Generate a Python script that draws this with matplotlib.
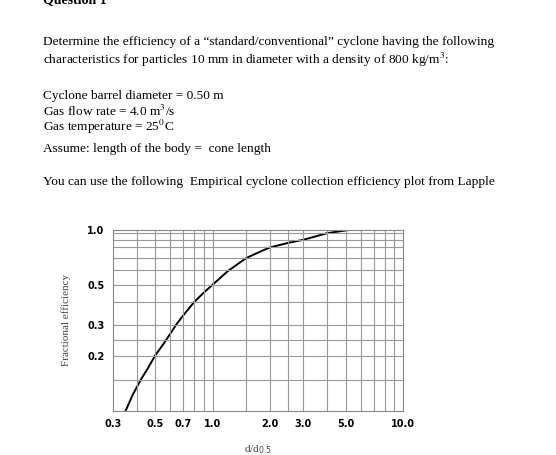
import numpy as np
import matplotlib
matplotlib.use("Agg")
import matplotlib.pyplot as plt

ratio = [0.35, 0.38, 0.42, 0.46, 0.5, 0.55, 0.6, 0.65, 0.7, 0.8, 0.9, 1.0, 1.2, 1.5, 1.8, 2.0, 2.5, 3.0, 4.0, 5.3]
eff = [0.1, 0.125, 0.15, 0.175, 0.2, 0.235, 0.27, 0.305, 0.34, 0.4, 0.455, 0.5, 0.59, 0.7, 0.765, 0.8, 0.86, 0.9, 0.95, 1.0]
xticks = [0.3, 0.5, 0.7, 1.0, 2.0, 3.0, 5.0, 10.0]
yticks = [0.2, 0.3, 0.5, 1.0]

yv = np.array([0.1, 0.15, 0.2, 0.25, 0.3, 0.4, 0.5, 0.6, 0.7, 0.8, 0.9, 0.95, 1.0])
yp = -np.array([588, 495, 422, 375, 330, 262, 210, 165, 130, 98, 75, 55, 45], float)
fwd = lambda v: np.interp(v, yv, yp)
inv = lambda p: np.interp(p, yp, yv)

fig = plt.figure(figsize=(5.56, 4.55), dpi=100)
serif = "Liberation Serif"
lines = [
    (0.092, "Determine the efficiency of a \u201cstandard/conventional\u201d cyclone having the following"),
    (0.132, "characteristics for particles 10 mm in diameter with a density of 800 kg/m$^3$:"),
    (0.210, "Cyclone barrel diameter = 0.50 m"),
    (0.244, "Gas flow rate = 4.0 m$^3$/s"),
    (0.278, "Gas temperature = 25$^0$C"),
    (0.328, "Assume: length of the body =  cone length"),
    (0.400, "You can use the following  Empirical cyclone collection efficiency plot from Lapple"),
]
for y, t in lines:
    fig.text(0.077, 1 - y, t, family=serif, fontsize=9.6, va="center",
             math_fontfamily="stix")
fig.text(0.077, 1.0, "Question 1", family=serif, fontsize=10, weight="bold", va="center")

ax = fig.add_axes([0.203, 0.097, 0.522, 0.398])
ax.set_xscale("log")
ax.set_yscale("function", functions=(fwd, inv))
ax.set_xlim(0.3, 10)
ax.set_ylim(0.1, 1.0)
ax.plot(ratio, eff, color="black", lw=1.4)
xg = [0.4, 0.5, 0.6, 0.7, 0.8, 0.9, 1.0, 1.5, 2.0, 2.5, 3.0, 4.0, 5.0, 6.0, 7.0, 8.0, 9.0]
for x in xg:
    ax.axvline(x, color="#999999", lw=0.8)
for y in yv[1:-1]:
    ax.axhline(y, color="#999999", lw=0.8)
ax.set_xticks(xticks)
ax.set_xticklabels([f"{v:.1f}" for v in xticks])
ax.set_xticks([], minor=True)
ax.set_yticks(yticks)
ax.set_yticklabels([f"{v:.1f}" for v in yticks])
ax.set_yticks([], minor=True)
ax.tick_params(length=0, labelsize=7, pad=6)
for lab in ax.get_xticklabels() + ax.get_yticklabels():
    lab.set_fontweight("bold")
for s in ax.spines.values():
    s.set_color("#888888")
ax.set_ylabel("Fractional efficiency", family=serif, fontsize=8, color="#444444", labelpad=12)
ax.set_xlabel("d/d$_{0.5}$", family=serif, fontsize=8, color="#444444", labelpad=10)
fig.savefig("out.png", dpi=100)
